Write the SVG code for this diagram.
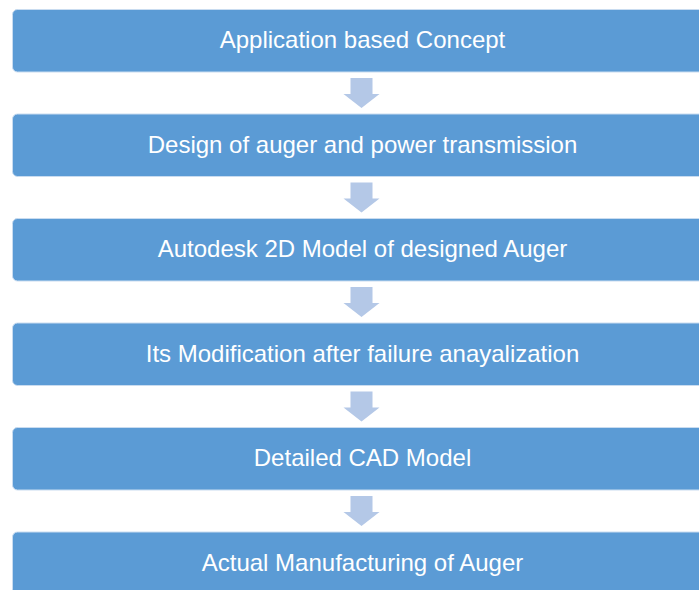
<svg xmlns="http://www.w3.org/2000/svg" width="699" height="590" viewBox="0 0 699 590">
<style>
.box{fill:#5B9BD5;stroke:#C9DCF0;stroke-width:1}
.lbl{font-family:"Liberation Sans",Arial,sans-serif;font-size:24px;fill:#FFFFFF;text-anchor:middle}
.arr{fill:#B4C8E7}
</style>
<rect width="699" height="590" fill="#FFFFFF"/>
<g id="connectors">
<polygon class="arr" points="350.5,78 372.5,78 372.5,94 379.5,94 361.5,108 343.5,94 350.5,94"/>
<polygon class="arr" points="350.5,182.5 372.5,182.5 372.5,198.5 379.5,198.5 361.5,212.5 343.5,198.5 350.5,198.5"/>
<polygon class="arr" points="350.5,287 372.5,287 372.5,303 379.5,303 361.5,317 343.5,303 350.5,303"/>
<polygon class="arr" points="350.5,391.5 372.5,391.5 372.5,407.5 379.5,407.5 361.5,421.5 343.5,407.5 350.5,407.5"/>
<polygon class="arr" points="350.5,496 372.5,496 372.5,512 379.5,512 361.5,526 343.5,512 350.5,512"/>
</g>
<g id="n1"><rect class="box" x="12.5" y="9.5" width="700" height="62.5" rx="5"/><text class="lbl" x="362.5" y="48">Application based Concept</text></g>
<g id="n2"><rect class="box" x="12.5" y="114" width="700" height="62.5" rx="5"/><text class="lbl" x="362.5" y="152.5">Design of auger and power transmission</text></g>
<g id="n3"><rect class="box" x="12.5" y="218.5" width="700" height="62.5" rx="5"/><text class="lbl" x="362.5" y="257">Autodesk 2D Model of designed Auger</text></g>
<g id="n4"><rect class="box" x="12.5" y="323" width="700" height="62.5" rx="5"/><text class="lbl" x="362.5" y="361.5">Its Modification after failure anayalization</text></g>
<g id="n5"><rect class="box" x="12.5" y="427.5" width="700" height="62.5" rx="5"/><text class="lbl" x="362.5" y="466">Detailed CAD Model</text></g>
<g id="n6"><rect class="box" x="12.5" y="532" width="700" height="62.5" rx="5"/><text class="lbl" x="362.5" y="570.5">Actual Manufacturing of Auger</text></g>
</svg>
